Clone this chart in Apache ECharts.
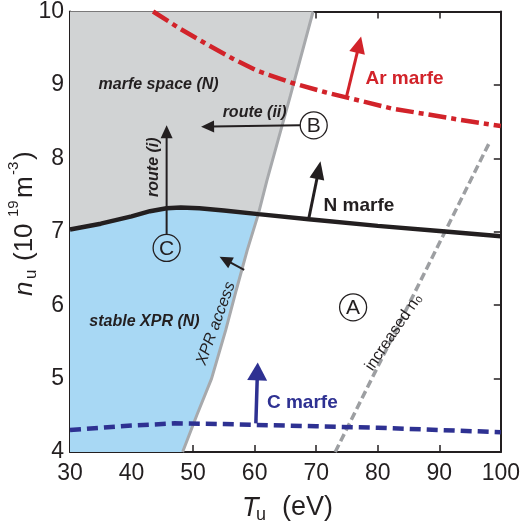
<!DOCTYPE html>
<html><head><meta charset="utf-8">
<script src="https://cdn.jsdelivr.net/npm/echarts@6/dist/echarts.min.js"></script>
<style>html,body{margin:0;padding:0;background:#fff}#c{width:523px;height:524px}</style>
</head><body><div id="c"></div>
<script>
// ---- data ----
const xTicks = [30, 40, 50, 60, 70, 80, 90, 100];
const yTicks = [4, 5, 6, 7, 8, 9, 10];
const crossing = [60.6, 7.24];
const xprAccess = [[48.3,4],[50.6,4.5],[53.0,5],[55.3,5.66],[57.0,6.2],[58.8,6.75],[60.6,7.24],[62.0,7.7],[65.8,8.85],[69.5,10]];
const nMarfe = [[30,7.03],[35,7.11],[40,7.21],[43,7.28],[45.7,7.32],[48,7.33],[51,7.32],[55,7.29],[60.6,7.24],[68.8,7.17],[80,7.08],[90,7.01],[100,6.94]];
const arMarfe = [[43.5,10],[47.8,9.77],[52.1,9.56],[56.4,9.36],[60.5,9.19],[66,9.03],[71.5,8.9],[82.2,8.68],[93,8.53],[100,8.44]];
const cMarfe = [[30,4.30],[40,4.36],[47,4.39],[55,4.38],[60,4.37],[70,4.35],[80,4.33],[90,4.30],[100,4.27]];
const increasedN0 = [[73.1,4],[98.3,8.24]];
const routeArrows = [[45.7,6.97,45.7,8.45],[67.4,8.45,51.3,8.43],[58.3,6.48,54.3,6.66]];
const nArrow = [[68.8,7.18,70.7,7.96]];
const arArrow = [[74.9,8.83,77.3,9.66]];
const cArrow = [[60.2,4.39,60.5,5.22]];
const regionLabels = [[44.4,9.01,'marfe space (N)'],[42.1,5.78,'stable XPR (N)'],[60.0,8.62,'route (ii)']];
const routeILabel = [[43.65,7.88,'route (i)']];
const arLabel = [[78.0,9.09,'Ar marfe']];
const nLabel = [[71.2,7.35,'N marfe']];
const cLabel = [[62.0,4.67,'C marfe']];
const xprLabel = [[53.7,5.75,'XPR access']];
const n0Label = [[82.6,5.63,'increased n₀']];
const circleLabels = [[76.0,5.97,'A'],[69.6,8.45,'B'],[45.7,6.78,'C']];

const xMin = xTicks[0], xMax = xTicks[xTicks.length-1];
const yMin = yTicks[0], yMax = yTicks[yTicks.length-1];
const DARK = '#231F20';
const FONT = 'Liberation Sans, Arial, sans-serif';

function arrowSeries(data, color, width, headLen, headW) {
  return {
    type: 'custom', z: 5, silent: true, data: data,
    renderItem: function (params, api) {
      const p1 = api.coord([api.value(0), api.value(1)]);
      const p2 = api.coord([api.value(2), api.value(3)]);
      const dx = p2[0]-p1[0], dy = p2[1]-p1[1];
      const L = Math.hypot(dx, dy), ux = dx/L, uy = dy/L;
      const bx = p2[0]-ux*headLen, by = p2[1]-uy*headLen;
      return {type:'group', children:[
        {type:'line', shape:{x1:p1[0],y1:p1[1],x2:bx+ux*2,y2:by+uy*2}, style:{stroke:color,lineWidth:width}},
        {type:'polygon', shape:{points:[[p2[0],p2[1]],[bx-uy*headW/2,by+ux*headW/2],[bx+uy*headW/2,by-ux*headW/2]]}, style:{fill:color}}
      ]};
    }
  };
}
function textSeries(data, opts) {
  return {
    type: 'custom', z: 6, silent: true, data: data.map(d => [d[0], d[1]]),
    renderItem: function (params, api) {
      const p = api.coord([api.value(0), api.value(1)]);
      return {type:'text', x:p[0], y:p[1], rotation:(opts.rotate||0)*Math.PI/180,
        style:{text:data[params.dataIndex][2], font:opts.font, fill:opts.color||DARK,
          align:opts.align||'center', verticalAlign:'middle'}};
    }
  };
}
function lineSeries(data, color, width, type) {
  return {type:'line', data:data, symbol:'none', silent:true, z:3, smooth:false,
    lineStyle:{color:color, width:width, type:type||'solid', cap:'butt'}};
}

const chart = echarts.init(document.getElementById('c'), null, {renderer:'canvas'});
const axisCommon = {
  axisLine:{show:true, onZero:false, lineStyle:{color:DARK, width:2}},
  axisTick:{show:true, inside:true, length:7, lineStyle:{color:DARK, width:1.5}},
  splitLine:{show:false}
};
chart.setOption({
  animation:false,
  textStyle:{fontFamily:FONT},
  grid:{left:70, right:20, top:11, bottom:72, containLabel:false},
  xAxis:[
    Object.assign({type:'value', min:xMin, max:xMax, interval:10, position:'bottom',
      axisLabel:{fontSize:23, color:DARK, margin:10, fontFamily:FONT}}, axisCommon),
    Object.assign({type:'value', min:xMin, max:xMax, interval:10, position:'top',
      axisLabel:{show:false}}, axisCommon)
  ],
  yAxis:[
    Object.assign({type:'value', min:yMin, max:yMax, interval:1, position:'left',
      axisLabel:{fontSize:23, color:DARK, margin:6, fontFamily:FONT}}, axisCommon),
    Object.assign({type:'value', min:yMin, max:yMax, interval:1, position:'right',
      axisLabel:{show:false}}, axisCommon)
  ],
  graphic:[
    {type:'group', x:0, y:0, silent:true, children:[
      {type:'text', x:242, y:508, style:{text:'T', font:'italic 27px '+FONT, fill:DARK, align:'left', verticalAlign:'middle'}},
      {type:'text', x:256, y:515, style:{text:'u', font:'18px '+FONT, fill:DARK, align:'left', verticalAlign:'middle'}},
      {type:'text', x:282, y:508, style:{text:'(eV)', font:'27px '+FONT, fill:DARK, align:'left', verticalAlign:'middle'}}
    ]},
    {type:'group', x:25, y:297, rotation:Math.PI/2, silent:true, children:[
      {type:'text', x:1, y:0, style:{text:'n', font:'italic 26px '+FONT, fill:DARK, align:'left', verticalAlign:'middle'}},
      {type:'text', x:18, y:6, style:{text:'u', font:'17px '+FONT, fill:DARK, align:'left', verticalAlign:'middle'}},
      {type:'text', x:36, y:0, style:{text:'(10', font:'26px '+FONT, fill:DARK, align:'left', verticalAlign:'middle'}},
      {type:'text', x:80, y:-11, style:{text:'19', font:'15px '+FONT, fill:DARK, align:'left', verticalAlign:'middle'}},
      {type:'text', x:99, y:0, style:{text:'m', font:'26px '+FONT, fill:DARK, align:'left', verticalAlign:'middle'}},
      {type:'text', x:122, y:-11, style:{text:'-3', font:'15px '+FONT, fill:DARK, align:'left', verticalAlign:'middle'}},
      {type:'text', x:137, y:0, style:{text:')', font:'26px '+FONT, fill:DARK, align:'left', verticalAlign:'middle'}}
    ]}
  ],
  series:[
    {type:'custom', z:1, silent:true, data:[[xMin, yMin]],
      renderItem:function (params, api) {
        const c = p => api.coord(p);
        const xUpper = xprAccess.filter(p => p[1] >= crossing[1]);
        const xLower = xprAccess.filter(p => p[1] <= crossing[1]);
        const nLeft = nMarfe.filter(p => p[0] <= crossing[0]);
        const gray = [[xMin, yMax]].concat(xUpper.slice().reverse(), nLeft.slice().reverse()).map(c);
        const blue = nLeft.concat(xLower.slice().reverse(), [[xMin, yMin]]).map(c);
        return {type:'group', children:[
          {type:'polygon', shape:{points:gray}, style:{fill:'#D1D3D4'}},
          {type:'polygon', shape:{points:blue}, style:{fill:'#A8D8F4'}}
        ]};
      }},
    lineSeries(xprAccess, '#A7A9AC', 3),
    lineSeries(increasedN0, '#9D9FA2', 3.5, [8,4]),
    lineSeries(cMarfe, '#2E3192', 4.5, [11,6]),
    lineSeries(nMarfe, DARK, 4.5),
    lineSeries(arMarfe, '#D2232A', 4.5, [18,5,5,5]),
    arrowSeries(routeArrows, DARK, 2, 13, 12),
    arrowSeries(nArrow, DARK, 3, 18, 15),
    arrowSeries(arArrow, '#D2232A', 3, 17, 16),
    arrowSeries(cArrow, '#2E3192', 3.5, 18, 20),
    {type:'custom', z:6, silent:true, data:circleLabels.map(d => [d[0], d[1]]),
      renderItem:function (params, api) {
        const p = api.coord([api.value(0), api.value(1)]);
        return {type:'group', children:[
          {type:'circle', shape:{cx:p[0], cy:p[1], r:13.5}, style:{fill:'none', stroke:DARK, lineWidth:1.3}},
          {type:'text', x:p[0], y:p[1]+1, style:{text:circleLabels[params.dataIndex][2], font:'21px '+FONT, fill:DARK, align:'center', verticalAlign:'middle'}}
        ]};
      }},
    textSeries(regionLabels, {font:'italic bold 16px '+FONT}),
    textSeries(routeILabel, {font:'italic bold 16px '+FONT, rotate:90}),
    textSeries(arLabel, {font:'bold 19px '+FONT, color:'#D2232A', align:'left'}),
    textSeries(nLabel, {font:'bold 19px '+FONT, align:'left'}),
    textSeries(cLabel, {font:'bold 19px '+FONT, color:'#2E3192', align:'left'}),
    textSeries(xprLabel, {font:'italic 16px '+FONT, rotate:70}),
    textSeries(n0Label, {font:'16px '+FONT, rotate:56})
  ]
});
</script>
</body></html>
